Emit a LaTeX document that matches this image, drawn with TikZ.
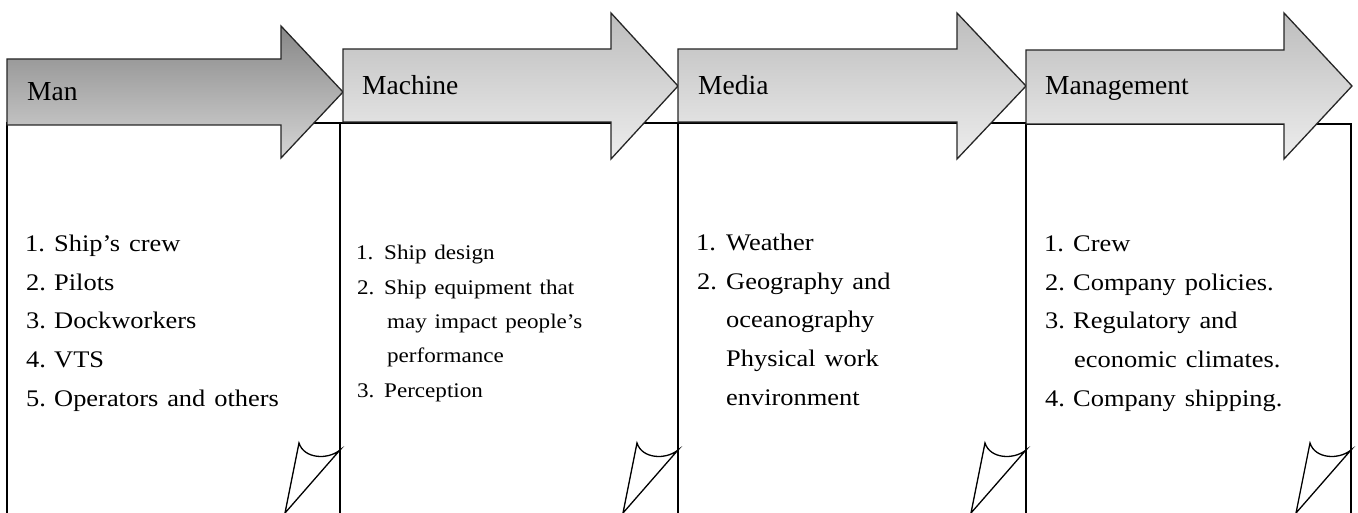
\documentclass[tikz,border=0pt]{standalone}
\usepackage{fontspec}
\setmainfont{Liberation Serif}
\newfontfamily\listfamily{Liberation Serif}[FakeStretch=1.11,WordSpace=1.35]
\newfontfamily\headfamily{Liberation Serif}

\definecolor{darktop}{HTML}{878787}
\definecolor{darkbot}{HTML}{D5D5D5}
\definecolor{lighttop}{HTML}{BDBDBD}
\definecolor{lightbot}{HTML}{EDEDED}

\tikzset{
  panel/.style={draw=black, line width=1.6pt, line cap=butt},
  flap/.style={draw=black, line width=1.3pt, line join=miter},
  bigarrow/.style={draw=black!85, line width=1.3pt, line join=miter},
  darkarrow/.style={bigarrow, top color=darktop, bottom color=darkbot},
  lightarrow/.style={bigarrow, top color=lighttop, bottom color=lightbot},
  heading/.style={anchor=base west, inner sep=0pt, font=\headfamily\fontsize{27.5}{30}\selectfont},
  itemtext/.style={anchor=base west, inner sep=0pt, font=\listfamily\fontsize{23.8}{27}\selectfont},
  smallitem/.style={anchor=base west, inner sep=0pt, font=\listfamily\fontsize{20.8}{24}\selectfont},
}

\begin{document}
\begin{tikzpicture}[x=1pt,y=-1pt]
\useasboundingbox (0,0) rectangle (1358,513);

% open panels below the arrows
\draw[panel] (7,513) -- (7,123) -- (340,123) -- (340,513);
\draw[panel] (340,513) -- (340,123) -- (678,123) -- (678,513);
\draw[panel] (678,513) -- (678,123) -- (1026,123) -- (1026,513);
\draw[panel] (1026,513) -- (1026,124) -- (1351,124) -- (1351,513);

% curled corners at the bottom right of each panel
\foreach \r in {340,678,1026,1351} {
  \draw[flap] (\r-41,443) .. controls (\r-36,459) and (\r-12,460) .. (\r,450)
     -- (\r-55,513) -- cycle;
}

% block arrows
\draw[darkarrow] (7,59) -- (281,59) -- (281,26) -- (343,92) -- (281,158)
   -- (281,125) -- (7,125) -- cycle;
\draw[lightarrow] (343,49) -- (611,49) -- (611,13) -- (678,86) -- (611,159)
   -- (611,122) -- (343,122) -- cycle;
\draw[lightarrow] (678,49) -- (957,49) -- (957,13) -- (1026,86) -- (957,159)
   -- (957,122) -- (678,122) -- cycle;
\draw[lightarrow] (1026,50) -- (1284,50) -- (1284,13) -- (1352,86) -- (1284,159)
   -- (1284,124) -- (1026,124) -- cycle;

% headings
\node[heading] (hman) at (27,101) {Man};
\node[heading] (hmachine) at (362,95) {Machine};
\node[heading] (hmedia) at (698,95) {Media};
\node[heading] (hmanagement) at (1045,95) {Management};

% Man
\node[itemtext] (a1n) at (25,251.5) {1.};
\node[itemtext] (a1t) at (54,251.5) {Ship’s crew};
\node[itemtext] (a2n) at (26,290.2) {2.};
\node[itemtext] (a2t) at (54,290.2) {Pilots};
\node[itemtext] (a3n) at (26,328.9) {3.};
\node[itemtext] (a3t) at (54,328.9) {Dockworkers};
\node[itemtext] (a4n) at (26,367.6) {4.};
\node[itemtext] (a4t) at (54,367.6) {VTS};
\node[itemtext] (a5n) at (26,406.3) {5.};
\node[itemtext] (a5t) at (54,406.3) {Operators and others};

% Machine
\node[smallitem] (b1n) at (356,260) {1.};
\node[smallitem] (b1t) at (384,260) {Ship design};
\node[smallitem] (b2n) at (357,294.3) {2.};
\node[smallitem] (b2t) at (384,294.3) {Ship equipment that};
\node[smallitem] (b2u) at (387,328.6) {may impact people’s};
\node[smallitem] (b2v) at (387,362.9) {performance};
\node[smallitem] (b3n) at (357,397.2) {3.};
\node[smallitem] (b3t) at (384,397.2) {Perception};

% Media
\node[itemtext] (c1n) at (696,250.5) {1.};
\node[itemtext] (c1t) at (726,250.5) {Weather};
\node[itemtext] (c2n) at (697,289.2) {2.};
\node[itemtext] (c2t) at (726,289.2) {Geography and};
\node[itemtext] (c2u) at (726,327.9) {oceanography};
\node[itemtext] (c2v) at (726,366.6) {Physical work};
\node[itemtext] (c2w) at (726,405.3) {environment};

% Management
\node[itemtext] (d1n) at (1044,251.5) {1.};
\node[itemtext] (d1t) at (1073,251.5) {Crew};
\node[itemtext] (d2n) at (1045,290.2) {2.};
\node[itemtext] (d2t) at (1073,290.2) {Company policies.};
\node[itemtext] (d3n) at (1045,328.9) {3.};
\node[itemtext] (d3t) at (1073,328.9) {Regulatory and};
\node[itemtext] (d3u) at (1074,367.6) {economic climates.};
\node[itemtext] (d4n) at (1045,406.3) {4.};
\node[itemtext] (d4t) at (1073,406.3) {Company shipping.};
\end{tikzpicture}
\end{document}
